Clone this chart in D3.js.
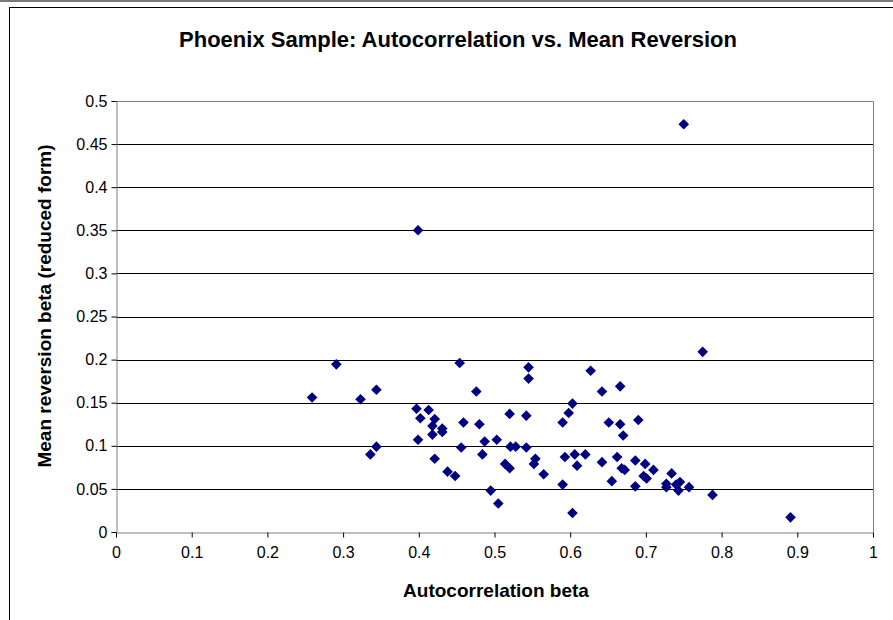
<!DOCTYPE html>
<html>
<head>
<meta charset="utf-8">
<script src="https://cdn.jsdelivr.net/npm/d3@7"></script>
<style>
	body { margin: 0; background: #fff; }
	text { font-family: Arial, "Liberation Sans", sans-serif; }
</style>
</head>
<body>
<script>

// autocorrelation beta (x) / mean reversion beta (y)
const autoBeta = [0.259, 0.291, 0.323, 0.344, 0.336, 0.344, 0.397, 0.413, 0.402, 0.421,
	0.418, 0.431, 0.431, 0.418, 0.399, 0.421, 0.438, 0.448, 0.399, 0.454,
	0.459, 0.480, 0.456, 0.487, 0.503, 0.484, 0.476, 0.495, 0.505, 0.545,
	0.545, 0.520, 0.542, 0.521, 0.528, 0.542, 0.554, 0.552, 0.514, 0.520,
	0.565, 0.603, 0.598, 0.590, 0.593, 0.606, 0.620, 0.609, 0.590, 0.603,
	0.627, 0.642, 0.666, 0.651, 0.666, 0.670, 0.690, 0.642, 0.662, 0.668,
	0.672, 0.686, 0.699, 0.710, 0.697, 0.701, 0.655, 0.686, 0.734, 0.727,
	0.727, 0.745, 0.740, 0.743, 0.757, 0.788, 0.891, 0.775, 0.750]
const meanRevBeta = [0.156, 0.1945, 0.154, 0.165, 0.090, 0.099, 0.143, 0.1415, 0.132, 0.131,
	0.123, 0.120, 0.116, 0.113, 0.107, 0.085, 0.070, 0.065, 0.350, 0.196,
	0.127, 0.125, 0.098, 0.105, 0.107, 0.090, 0.163, 0.048, 0.033, 0.191,
	0.178, 0.137, 0.135, 0.099, 0.099, 0.098, 0.085, 0.079, 0.079, 0.074,
	0.067, 0.149, 0.138, 0.127, 0.087, 0.090, 0.090, 0.077, 0.055, 0.022,
	0.187, 0.163, 0.169, 0.127, 0.125, 0.112, 0.130, 0.081, 0.087, 0.074,
	0.072, 0.083, 0.079, 0.072, 0.065, 0.062, 0.059, 0.053, 0.068, 0.056,
	0.052, 0.058, 0.055, 0.048, 0.052, 0.043, 0.017, 0.209, 0.473]

const xTicks = [0, 0.1, 0.2, 0.3, 0.4, 0.5, 0.6, 0.7, 0.8, 0.9, 1]
const yTicks = [0, 0.05, 0.1, 0.15, 0.2, 0.25, 0.3, 0.35, 0.4, 0.45, 0.5]

const W = 893, H = 620
const plot = {left: 116, right: 873, top: 101, bottom: 532}

const svg = d3.select('body').append('svg')
	.attr('width', W)
	.attr('height', H)

//chart frame
svg.append('rect').attr('x', 0).attr('y', 0).attr('width', W).attr('height', 2).style('fill', '#7a7a7a')
svg.append('rect')
	.attr('x', 9.5).attr('y', 7.5)
	.attr('width', W + 10).attr('height', H)
	.style('fill', 'none').style('stroke', '#000').style('stroke-width', 1)

const x = d3.scaleLinear().domain([0, 1]).range([plot.left, plot.right])
const y = d3.scaleLinear().domain([0, 0.5]).range([plot.bottom, plot.top])

//gridlines
svg.append('g').selectAll('line')
	.data(yTicks.slice(1, -1))
	.join('line')
	.attr('x1', plot.left).attr('x2', plot.right)
	.attr('y1', d => Math.round(y(d)) + 0.5).attr('y2', d => Math.round(y(d)) + 0.5)
	.style('stroke', '#000').style('stroke-width', 1)

//plot area border (top & right)
svg.append('path')
	.attr('d', `M${plot.left},${plot.top + 0.5}H${plot.right + 0.5}V${plot.bottom}`)
	.style('fill', 'none').style('stroke', '#808080')

//axes
const xAxis = svg.append('g')
	.attr('transform', `translate(0,${plot.bottom + 0.5})`)
	.call(d3.axisBottom(x).tickValues(xTicks).tickSize(5).tickPadding(9).tickFormat(d3.format('')))
const yAxis = svg.append('g')
	.attr('transform', `translate(${plot.left + 0.5},0)`)
	.call(d3.axisLeft(y).tickValues(yTicks).tickSize(5).tickPadding(4).tickFormat(d3.format('')))

for (const ax of [xAxis, yAxis]) {
	ax.select('.domain').style('stroke', '#808080')
	ax.selectAll('.tick line').style('stroke', '#000')
	ax.selectAll('.tick text').style('font-size', '16px').style('fill', '#000')
		.style('font-family', 'Arial, "Liberation Sans", sans-serif')
}

//points
svg.append('g').selectAll('path')
	.data(autoBeta.map((a, i) => [a, meanRevBeta[i]]))
	.join('path')
	.attr('d', d3.symbol(d3.symbolDiamond2, 72))
	.attr('transform', d => `translate(${x(d[0])},${y(d[1])})`)
	.style('fill', '#000080')

//titles
svg.append('text')
	.attr('x', 458).attr('y', 47)
	.attr('text-anchor', 'middle')
	.style('font-size', '22px').style('font-weight', 'bold')
	.text('Phoenix Sample: Autocorrelation vs. Mean Reversion')

svg.append('text')
	.attr('x', 496).attr('y', 597)
	.attr('text-anchor', 'middle')
	.style('font-size', '19px').style('font-weight', 'bold')
	.text('Autocorrelation beta')

svg.append('text')
	.attr('transform', 'translate(51,306) rotate(-90)')
	.attr('text-anchor', 'middle')
	.style('font-size', '19px').style('font-weight', 'bold')
	.text('Mean reversion beta (reduced form)')

</script>
</body>
</html>
